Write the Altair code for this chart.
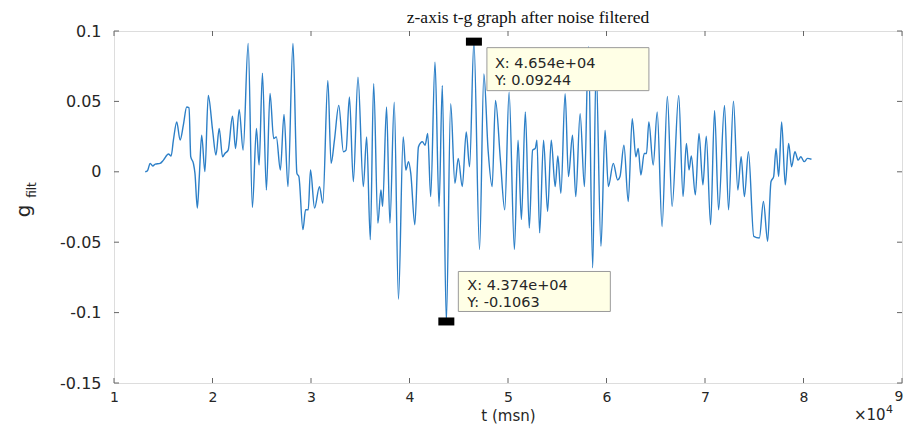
import altair as alt
import pandas as pd

# time (msn) and filtered z-axis acceleration
t_msn = [13170, 13400, 13670, 13940, 14180, 14680, 15020, 15530, 15800, 16030,
         16370, 16710, 17040, 17380, 17620, 17790, 18060, 18220, 18460, 18660,
         18900, 19230, 19570, 20010, 20350, 20680, 21020, 21260, 21590, 22030,
         22340, 22710, 23110, 23620, 24050, 24460, 24730, 25070, 25470, 25840,
         26210, 26480, 26890, 27260, 27660, 28170, 28570, 28770, 29180, 29450,
         29720, 29950, 30360, 30860, 31200, 31710, 32040, 32380, 32820, 33290,
         33560, 33900, 34300, 34770, 35310, 35650, 36020, 36360, 36790, 37100,
         37270, 37670, 38010, 38450, 38880, 39360, 39630, 39900, 40130, 40540,
         40910, 41310, 41580, 41850, 42150, 42590, 43000, 43330, 43740, 44180,
         44610, 44950, 45360, 45760, 46100, 46540, 47110, 47550, 47980, 48390,
         48730, 49230, 49670, 50110, 50650, 51020, 51360, 51760, 52160, 52500,
         52770, 52940, 53210, 53610, 54020, 54390, 54790, 55060, 55370, 55800,
         56140, 56550, 56880, 57320, 57760, 58160, 58600, 58940, 59440, 59850,
         60190, 60690, 61130, 61370, 61770, 62210, 62610, 62980, 63220, 63490,
         63830, 64060, 64300, 64740, 65150, 65640, 66180, 66660, 67330, 67770,
         68110, 68380, 68610, 69020, 69390, 69790, 70130, 70570, 70970, 71380,
         71980, 72390, 72890, 73330, 73670, 74000, 74410, 74950, 75520, 75930,
         76360, 76700, 76970, 77210, 77480, 77780, 78150, 78490, 78790, 79130,
         79460, 79730, 80070, 80410, 80810]

g_filt = [0.0000, 0.0008, 0.0060, 0.0041, 0.0055, 0.0060, 0.0083, 0.0126, 0.0112, 0.0225,
          0.0354, 0.0225, 0.0331, 0.0460, 0.0455, 0.0107, 0.0060, -0.0011, -0.0258, -0.0034,
          0.0260, 0.0001, 0.0542, 0.0295, 0.0119, 0.0307, 0.0107, 0.0130, 0.0154, 0.0394,
          0.0166, 0.0441, 0.0154, 0.0912, -0.0253, 0.0307, 0.0048, 0.0700, -0.0129, 0.0557,
          0.0236, 0.0248, 0.0013, 0.0408, -0.0105, 0.0912, -0.0011, -0.0034, -0.0411, -0.0270,
          -0.0270, 0.0013, -0.0258, -0.0105, -0.0223, 0.0648, 0.0060, 0.0225, 0.0472, 0.0142,
          0.0154, 0.0531, -0.0070, 0.0672, -0.0105, 0.0248, -0.0482, 0.0625, -0.0364, -0.0129,
          -0.0246, 0.0460, -0.0364, 0.0495, -0.0905, 0.0248, 0.0013, 0.0072, -0.0011, -0.0376,
          0.0177, 0.0213, 0.0189, 0.0272, -0.0176, 0.0778, -0.0246, 0.0613, -0.1063, 0.0484,
          -0.0081, 0.0095, -0.0105, 0.0283, 0.0036, 0.09244, -0.0552, 0.0695, 0.0154, -0.0105,
          0.0507, 0.0083, -0.0270, 0.0566, -0.0552, 0.0225, -0.0340, 0.0425, -0.0399, 0.0154,
          0.0166, 0.0225, -0.0434, 0.0225, -0.0282, 0.0225, -0.0105, 0.0112, -0.0152, 0.0554,
          -0.0034, 0.0260, -0.0176, 0.0413, -0.0105, 0.0888, -0.0682, 0.0750, -0.0529, 0.0295,
          -0.0105, 0.0060, -0.0058, -0.0034, 0.0189, -0.0211, 0.0378, 0.0107, 0.0166, -0.0023,
          0.0130, 0.0130, 0.0354, 0.0048, 0.0425, -0.0388, 0.0535, -0.0246, 0.0542, -0.0176,
          0.0201, 0.0013, 0.0112, -0.0164, 0.0272, -0.0093, 0.0253, -0.0376, 0.0436, -0.0270,
          0.0472, -0.0270, 0.0502, -0.0129, 0.0107, -0.0176, 0.0142, -0.0458, -0.0470, -0.0211,
          -0.0493, -0.0070, -0.0034, 0.0166, -0.0034, 0.0354, -0.0093, 0.0201, 0.0036, 0.0142,
          0.0083, 0.0107, 0.0072, 0.0095, 0.0089]

x_tick_values = [10000, 20000, 30000, 40000, 50000, 60000, 70000, 80000, 90000]
y_tick_values = [-0.15, -0.1, -0.05, 0, 0.05, 0.1]

tip_t = [46540, 43740]
tip_g = [0.09244, -0.1063]
tip_x_text = ["X: 4.654e+04", "X: 4.374e+04"]
tip_y_text = ["Y: 0.09244", "Y: -0.1063"]

TITLE = "z-axis t-g graph after noise filtered"
W, H = 788, 352
INK = "#262626"
FRAME = "#666666"
LINE = "#2c7fc7"
SANS = "DejaVu Sans"
TICK_FS = 14

xs = alt.Scale(domain=[10000, 90000], nice=False, zero=False)
ys = alt.Scale(domain=[-0.15, 0.1], nice=False, zero=False)

x_axis = alt.Axis(
    values=x_tick_values[:-1], labelExpr="datum.value / 10000", ticks=False, tickSize=0,
    domain=False, grid=False, labelPadding=7, labelFont=SANS, labelFontSize=TICK_FS,
    labelColor=INK, labelFlush=False, labelOverlap=False, labelBound=False,
    title="t (msn)", titleFont=SANS, titleFontSize=15, titleFontWeight="normal",
    titleColor=INK, titleBaseline="alphabetic", titleY=37.5)
y_axis = alt.Axis(
    values=y_tick_values, labelExpr="'' + datum.value", ticks=False, tickSize=0,
    domain=False, grid=False, labelPadding=13, labelFont=SANS, labelFontSize=16,
    labelColor=INK, labelFlush=False, labelOverlap=False, labelBound=False,
    title="")


def xenc():
    return alt.X("t:Q", scale=xs, axis=x_axis, title="t (msn)")


def yenc():
    return alt.Y("g:Q", scale=ys, axis=y_axis, title="")


sig = pd.DataFrame({"t": t_msn, "g": g_filt})
line = alt.Chart(sig).mark_line(color=LINE, strokeWidth=1.4, interpolate="monotone").encode(
    x=xenc(), y=yenc())

xt = pd.DataFrame({"t": x_tick_values})
yt = pd.DataFrame({"g": y_tick_values})
tick_mark = dict(color=FRAME, strokeWidth=1)
bottom_ticks = alt.Chart(xt).mark_rule(**tick_mark).encode(x=xenc(), y=alt.value(H), y2=alt.value(H - 5))
top_ticks = alt.Chart(xt).mark_rule(**tick_mark).encode(x=xenc(), y=alt.value(0), y2=alt.value(5))
left_ticks = alt.Chart(yt).mark_rule(**tick_mark).encode(y=yenc(), x=alt.value(0), x2=alt.value(5))
right_ticks = alt.Chart(yt).mark_rule(**tick_mark).encode(y=yenc(), x=alt.value(W), x2=alt.value(W - 5))

# last x tick label, nudged left so it stays inside the page
last_lbl = pd.DataFrame({"t": x_tick_values[-1:], "s": ["9"]})
last_tick_lbl = alt.Chart(last_lbl).mark_text(font=SANS, fontSize=TICK_FS, color=INK, align="center",
                                              baseline="top", dx=-3).encode(
    x=xenc(), y=alt.value(H + 7), text="s:N")

tips = pd.DataFrame({"t": tip_t, "g": tip_g, "xl": tip_x_text, "yl": tip_y_text})
tip_hi = tips.iloc[[0]]
tip_lo = tips.iloc[[1]]


def box(df, x0, x1, y0, y1):
    return alt.Chart(df).mark_rect(fill="#FFFFE6", stroke="#9a9a9a", strokeWidth=1,
                                   xOffset=x0, x2Offset=x1, yOffset=y0, y2Offset=y1).encode(
        x=xenc(), x2=alt.X2("t"), y=yenc(), y2=alt.Y2("g"))


def txt(df, field, dx, dy):
    return alt.Chart(df).mark_text(align="left", baseline="alphabetic", dx=dx, dy=dy,
                                   font=SANS, fontSize=14.5, color=INK).encode(
        x=xenc(), y=yenc(), text=f"{field}:N")


markers = alt.Chart(tips).mark_rect(color="black", xOffset=-8, x2Offset=8, yOffset=-4, y2Offset=4).encode(
    x=xenc(), x2=alt.X2("t"), y=yenc(), y2=alt.Y2("g"))

tip_layers = [
    box(tip_hi, 13, 175, 6, 49), txt(tip_hi, "xl", 21, 26), txt(tip_hi, "yl", 21, 43),
    box(tip_lo, 12, 164, -50, -10), txt(tip_lo, "xl", 21, -31), txt(tip_lo, "yl", 21, -14),
    markers,
]

lab = pd.DataFrame({"s": [TITLE, "g", "filt", "×10", "4"]})
title_lbl = alt.Chart(lab.iloc[[0]]).mark_text(font="Liberation Serif", fontSize=17.5, color="#111111",
                                               align="center", baseline="alphabetic").encode(
    x=alt.value(414), y=alt.value(-8), text="s:N")
g_lbl = alt.Chart(lab.iloc[[1]]).mark_text(angle=270, font=SANS, fontSize=20, color=INK,
                                           align="center", baseline="alphabetic").encode(
    x=alt.value(-84), y=alt.value(180), text="s:N")
filt_lbl = alt.Chart(lab.iloc[[2]]).mark_text(angle=270, font=SANS, fontSize=12, color=INK,
                                              align="center", baseline="alphabetic").encode(
    x=alt.value(-78), y=alt.value(159), text="s:N")
exp_lbl = alt.Chart(lab.iloc[[3]]).mark_text(font=SANS, fontSize=15, color=INK,
                                             align="left", baseline="alphabetic").encode(
    x=alt.value(740), y=alt.value(389), text="s:N")
exp4_lbl = alt.Chart(lab.iloc[[4]]).mark_text(font=SANS, fontSize=11, color=INK,
                                              align="left", baseline="alphabetic").encode(
    x=alt.value(772), y=alt.value(382), text="s:N")

chart = alt.layer(
    line, bottom_ticks, top_ticks, left_ticks, right_ticks, last_tick_lbl, *tip_layers,
    title_lbl, g_lbl, filt_lbl, exp_lbl, exp4_lbl,
).properties(
    width=W, height=H,
    autosize=alt.AutoSizeParams(type="none"),
    padding={"left": 106, "top": 23, "right": 3, "bottom": 41},
).configure_view(stroke=FRAME, strokeWidth=1).configure(background="white")

chart.save("out.html", embed_options={"renderer": "svg", "actions": False})
